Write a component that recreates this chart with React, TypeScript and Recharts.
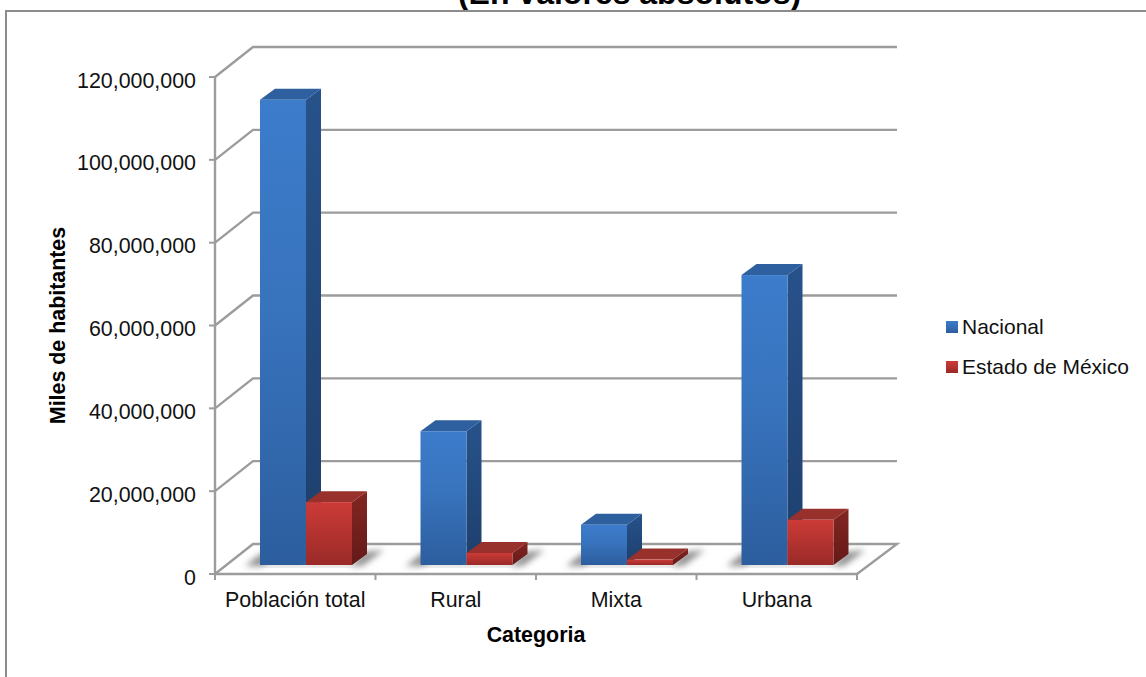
import { BarChart, Bar, XAxis, YAxis, CartesianGrid, Legend } from "recharts";

const categories = ["Población total", "Rural", "Mixta", "Urbana"];
const nacional = [112336538, 32300000, 9700000, 70000000];
const estadoMexico = [15175862, 2900000, 1300000, 10900000];
const yTicks = [0, 20000000, 40000000, 60000000, 80000000, 100000000, 120000000];

const chartData = categories.map((name, i) => ({
  name,
  nacional: nacional[i],
  estado: estadoMexico[i],
}));

const FONT = "'Liberation Sans', Arial, sans-serif";
const GRID = "#9c9c9c";
const PLOT_BOTTOM = 574;
const BAND = (857 - 215) / categories.length;

// bars stand in the middle of the fake 3D floor
const BAR_DX = 11;
const BAR_DY = -9;
const DEPTH_X = 15;
const DEPTH_Y = -11;

const GridLine3D = ({ x1, y1, x2, y2 }: any) => {
  const isFloor = y1 > PLOT_BOTTOM - 2;
  return (
    <g>
      <polyline
        points={`${x1},${y1} ${x1 + 38},${y1 - 30} ${x2 + 40},${y2 - 30}${isFloor ? ` ${x2},${y2}` : ""}`}
        fill="none"
        stroke={GRID}
        strokeWidth={2.4}
      />
    </g>
  );
};

// category ticks sit on the band edges, not on the band centre
const CategoryTick = ({ x, payload, index }: any) => (
  <g>
    <line x1={x - BAND / 2} x2={x - BAND / 2} y1={PLOT_BOTTOM} y2={PLOT_BOTTOM + 6} stroke={GRID} strokeWidth={2} />
    {index === categories.length - 1 && (
      <line x1={x + BAND / 2} x2={x + BAND / 2} y1={PLOT_BOTTOM} y2={PLOT_BOTTOM + 6} stroke={GRID} strokeWidth={2} />
    )}
    <text x={x} y={607} textAnchor="middle" fontFamily={FONT} fontSize={21.4} fill="#111">
      {payload.value}
    </text>
  </g>
);

const Bar3D = ({ x, y, width, height, front, top, side, shadowSide }: any) => {
  const left = x + BAR_DX;
  const right = left + width;
  const upper = y + BAR_DY;
  const base = upper + height;
  const shadow =
    shadowSide === "left"
      ? `${left - 15},${base + 1} ${left + 2},${base + 1} ${left + 15},${base - 11} ${left + 2},${base - 12}`
      : `${right - 2},${base + 1} ${right + 10},${base + 1} ${right + 32},${base - 15} ${right + 13},${base - 13}`;
  return (
    <g>
      <polygon points={shadow} fill="#8e8e8e" filter="url(#floorShadow)" />
      <rect x={left} y={base - 1} width={width} height={2} fill="#999" filter="url(#floorShadow)" />
      <polygon
        points={`${right},${upper} ${right + DEPTH_X},${upper + DEPTH_Y} ${right + DEPTH_X},${base + DEPTH_Y} ${right},${base}`}
        fill={`url(#${side})`}
      />
      <polygon
        points={`${left},${upper} ${left + DEPTH_X},${upper + DEPTH_Y} ${right + DEPTH_X},${upper + DEPTH_Y} ${right},${upper}`}
        fill={top}
      />
      <rect x={left} y={upper} width={width} height={height} fill={`url(#${front})`} />
    </g>
  );
};

const LegendList = () => (
  <div style={{ fontFamily: FONT, fontSize: 21, color: "#111" }}>
    {[
      { label: "Nacional", bg: "linear-gradient(#3c7ccb, #2c5e9e)" },
      { label: "Estado de México", bg: "linear-gradient(#cc3b37, #9a2a28)" },
    ].map((item) => (
      <div key={item.label} style={{ display: "flex", alignItems: "center", height: 40, whiteSpace: "nowrap" }}>
        <span style={{ display: "inline-block", width: 12, height: 12, background: item.bg, marginRight: 4 }} />
        {item.label}
      </div>
    ))}
  </div>
);

export default function App() {
  return (
    <div style={{ position: "absolute", left: 0, top: 0, width: 1146, height: 677, background: "#fff", overflow: "hidden" }}>
      <div
        style={{
          position: "absolute",
          left: 5,
          top: 10,
          width: 1141,
          height: 667,
          borderTop: "2px solid #8c8c8c",
          borderLeft: "2px solid #8c8c8c",
          boxSizing: "border-box",
        }}
      />
      <svg width={1146} height={10} style={{ position: "absolute", left: 0, top: 0 }}>
        <text x={629.5} y={4} textAnchor="middle" fontFamily={FONT} fontWeight="bold" fontSize={32} fill="#000">
          (En valores absolutos)
        </text>
      </svg>
      <div style={{ position: "absolute", left: 0, top: 0 }}>
        <BarChart
          width={1146}
          height={677}
          data={chartData}
          margin={{ top: 77, right: 89, bottom: 33, left: 0 }}
          barSize={46}
          barGap={0}
        >
          <defs>
            <filter id="floorShadow" x="-50%" y="-100%" width="200%" height="300%">
              <feGaussianBlur stdDeviation="3" />
            </filter>
            <linearGradient id="blueFront" x1="0" y1="0" x2="0" y2="1">
              <stop offset="0%" stopColor="#3c7ccb" />
              <stop offset="45%" stopColor="#3873bd" />
              <stop offset="100%" stopColor="#2c5e9e" />
            </linearGradient>
            <linearGradient id="blueSide" x1="0" y1="0" x2="0" y2="1">
              <stop offset="0%" stopColor="#27528a" />
              <stop offset="100%" stopColor="#1d3f6c" />
            </linearGradient>
            <linearGradient id="redFront" x1="0" y1="0" x2="0" y2="1">
              <stop offset="0%" stopColor="#cc3b37" />
              <stop offset="100%" stopColor="#9a2a28" />
            </linearGradient>
            <linearGradient id="redSide" x1="0" y1="0" x2="0" y2="1">
              <stop offset="0%" stopColor="#832622" />
              <stop offset="100%" stopColor="#641a18" />
            </linearGradient>
          </defs>
          <CartesianGrid vertical={false} horizontal={GridLine3D as any} />
          <XAxis
            dataKey="name"
            height={70}
            interval={0}
            axisLine={{ stroke: GRID, strokeWidth: 2.4 }}
            tickLine={false}
            tick={CategoryTick as any}
            label={{
              value: "Categoria",
              position: "insideBottom",
              offset: 2,
              style: { fontFamily: FONT, fontSize: 21.4, fontWeight: "bold", fill: "#000" },
            }}
          />
          <YAxis
            width={215}
            domain={[0, 120000000]}
            ticks={yTicks}
            tickSize={6}
            tickMargin={13}
            axisLine={{ stroke: GRID, strokeWidth: 2.4 }}
            tickLine={{ stroke: GRID, strokeWidth: 2 }}
            tick={{ fontFamily: FONT, fontSize: 21.4, fill: "#111", dy: 3 }}
            tickFormatter={(v: number) => v.toLocaleString("en-US")}
            label={{
              value: "Miles de habitantes",
              angle: -90,
              position: "insideLeft",
              offset: 57,
              style: { fontFamily: FONT, fontSize: 21.4, fontWeight: "bold", fill: "#000", textAnchor: "middle" },
            }}
          />
          <Legend
            layout="vertical"
            align="right"
            verticalAlign="top"
            wrapperStyle={{ left: 946, top: 307, right: "auto", width: 200 }}
            content={() => <LegendList />}
          />
          <Bar
            dataKey="nacional"
            name="Nacional"
            isAnimationActive={false}
            shape={(p: any) => <Bar3D {...p} front="blueFront" side="blueSide" top="#2e5f9f" shadowSide="left" />}
          />
          <Bar
            dataKey="estado"
            name="Estado de México"
            isAnimationActive={false}
            shape={(p: any) => <Bar3D {...p} front="redFront" side="redSide" top="#98302c" shadowSide="right" />}
          />
        </BarChart>
      </div>
    </div>
  );
}
